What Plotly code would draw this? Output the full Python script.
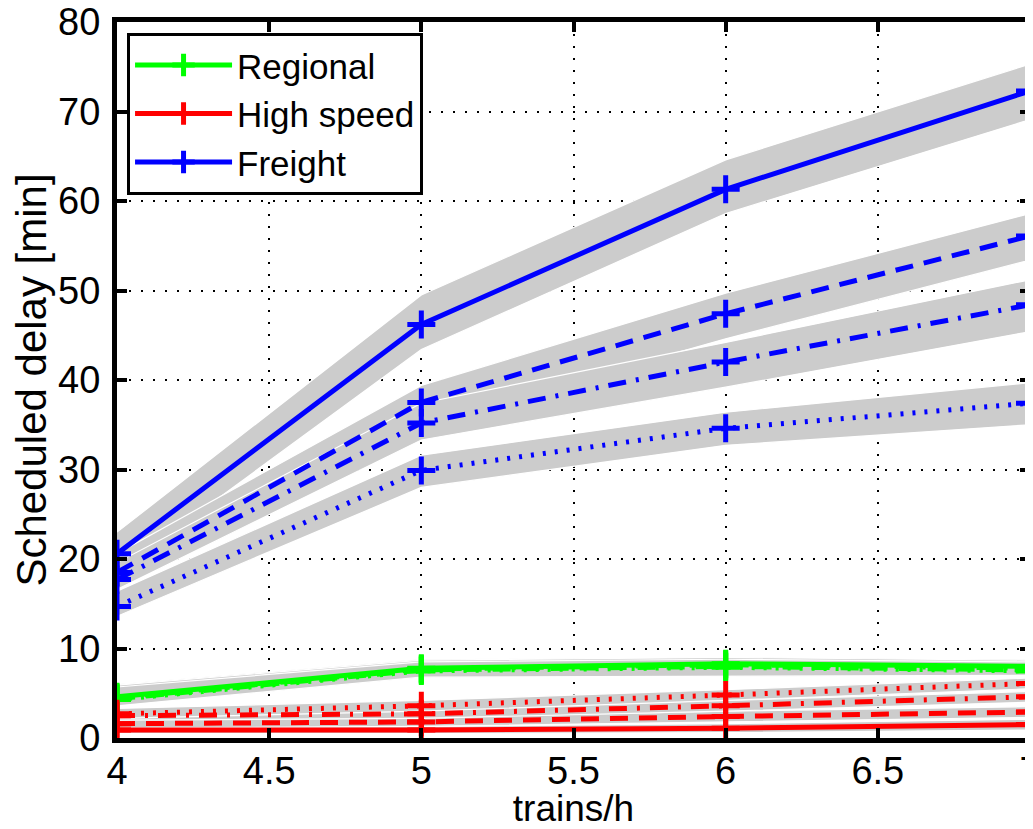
import plotly.graph_objects as go

# ---- data ----
x = [4, 5, 6, 7]

# Freight (blue)
freight_solid = [20.6, 46.2, 61.3, 72.3]
freight_solid_lo = [18.5, 43.4, 58.6, 69.1]
freight_solid_hi = [23.0, 49.5, 64.6, 75.3]
freight_dash = [18.5, 37.5, 47.4, 56.1]
freight_dash_lo = [16.8, 35.0, 44.6, 53.4]
freight_dash_hi = [20.6, 39.4, 49.7, 58.6]
freight_dashdot = [17.7, 35.2, 42.0, 48.4]
freight_dashdot_lo = [16.6, 33.3, 39.2, 45.4]
freight_dashdot_hi = [19.6, 37.4, 44.2, 51.2]
freight_dot = [14.7, 29.9, 34.6, 37.4]
freight_dot_lo = [13.6, 28.0, 32.7, 35.0]
freight_dot_hi = [16.4, 31.6, 36.4, 39.7]

# Regional (green)
regional_solid = [4.6, 7.8, 8.3, 8.0]
regional_solid_lo = [3.7, 6.9, 7.2, 7.1]
regional_solid_hi = [6.0, 8.8, 9.0, 8.8]
regional_dash = [4.4, 7.6, 8.0, 7.6]
regional_dash_lo = [3.6, 6.8, 7.0, 7.0]
regional_dash_hi = [5.8, 8.6, 8.9, 8.6]
regional_dashdot = [4.5, 7.7, 8.2, 7.8]
regional_dashdot_lo = [3.7, 6.9, 7.1, 7.0]
regional_dashdot_hi = [5.9, 8.7, 9.0, 8.7]
regional_dot = [4.3, 7.5, 7.9, 7.5]
regional_dot_lo = [3.6, 6.8, 6.9, 7.0]
regional_dot_hi = [5.7, 8.5, 8.8, 8.5]

# High speed (red)
high_solid = [0.9, 0.9, 1.1, 1.5]
high_solid_lo = [0.5, 0.5, 0.6, 0.9]
high_solid_hi = [1.3, 1.3, 1.6, 2.1]
high_dash = [1.6, 1.8, 2.4, 2.9]
high_dash_lo = [1.1, 1.3, 1.8, 2.3]
high_dash_hi = [2.1, 2.3, 3.0, 3.5]
high_dashdot = [2.5, 2.7, 3.6, 4.6]
high_dashdot_lo = [2.0, 2.2, 3.0, 4.0]
high_dashdot_hi = [3.0, 3.3, 4.2, 5.2]
high_dot = [2.7, 3.6, 4.8, 6.1]
high_dot_lo = [2.2, 3.0, 4.2, 5.5]
high_dot_hi = [3.3, 4.2, 5.4, 6.7]

x_ticks = [4, 4.5, 5, 5.5, 6, 6.5, 7]
x_tick_labels = ["4", "4.5", "5", "5.5", "6", "6.5", "7"]
y_ticks = [0, 10, 20, 30, 40, 50, 60, 70, 80]
y_tick_labels = ["0", "10", "20", "30", "40", "50", "60", "70", "80"]

# ---- styling ----
GREEN = "rgb(0,255,0)"
RED = "rgb(255,0,0)"
BLUE = "rgb(0,0,255)"
BAND = "rgb(204,204,204)"
DASHES = {
    "solid": "solid",
    "dash": "18px,11px",
    "dashdot": "18px,10px,3px,10px",
    "dot": "3px,9px",
}
FONT = "Liberation Sans, Arial, Helvetica, sans-serif"

series = [
    # (name, color, style, y, lo, hi, legend)
    ("Regional", GREEN, "solid", regional_solid, regional_solid_lo, regional_solid_hi, True),
    ("Regional", GREEN, "dash", regional_dash, regional_dash_lo, regional_dash_hi, False),
    ("Regional", GREEN, "dashdot", regional_dashdot, regional_dashdot_lo, regional_dashdot_hi, False),
    ("Regional", GREEN, "dot", regional_dot, regional_dot_lo, regional_dot_hi, False),
    ("High speed", RED, "solid", high_solid, high_solid_lo, high_solid_hi, True),
    ("High speed", RED, "dash", high_dash, high_dash_lo, high_dash_hi, False),
    ("High speed", RED, "dashdot", high_dashdot, high_dashdot_lo, high_dashdot_hi, False),
    ("High speed", RED, "dot", high_dot, high_dot_lo, high_dot_hi, False),
    ("Freight", BLUE, "solid", freight_solid, freight_solid_lo, freight_solid_hi, True),
    ("Freight", BLUE, "dash", freight_dash, freight_dash_lo, freight_dash_hi, False),
    ("Freight", BLUE, "dashdot", freight_dashdot, freight_dashdot_lo, freight_dashdot_hi, False),
    ("Freight", BLUE, "dot", freight_dot, freight_dot_lo, freight_dot_hi, False),
]

fig = go.Figure()

# bands first
for name, color, style, y, lo, hi, leg in series:
    fig.add_trace(go.Scatter(
        x=x + x[::-1], y=hi + lo[::-1],
        fill="toself", fillcolor=BAND,
        line=dict(color="white", width=1.2),
        mode="lines", hoverinfo="skip", showlegend=False,
    ))

# lines
for name, color, style, y, lo, hi, leg in series:
    fig.add_trace(go.Scatter(
        x=x, y=y, name=name, mode="lines+markers",
        line=dict(color=color, width=5, dash=DASHES[style]),
        marker=dict(symbol="cross-thin", size=20, color=color,
                    line=dict(color=color, width=5)),
        showlegend=leg,
    ))

# page body has an 8px default margin, so the figure is offset by 8px
fig.update_layout(
    width=1025, height=821,
    margin=dict(l=109, r=3, t=14, b=91, autoexpand=False),
    plot_bgcolor="white", paper_bgcolor="white",
    font=dict(family=FONT, size=36, color="black"),
    showlegend=True,
    legend=dict(
        x=0.011, y=0.985, xanchor="left", yanchor="top",
        xref="paper", yref="paper",
        bgcolor="white", bordercolor="black", borderwidth=3,
        font=dict(family=FONT, size=35, color="black"),
        itemwidth=97, tracegroupgap=0,
    ),
)
fig.update_xaxes(
    range=[4, 7], tickvals=x_ticks, ticktext=x_tick_labels,
    showline=True, linecolor="black", linewidth=5, mirror="ticks",
    ticks="inside", ticklen=10, tickwidth=4, tickcolor="black",
    showgrid=True, gridcolor="black", gridwidth=1.5, griddash="2px,10px",
    zeroline=False, ticklabeloverflow="allow", ticklabelstandoff=-5,
    title=dict(text="trains/h", font=dict(family=FONT, size=37), standoff=9),
    tickfont=dict(family=FONT, size=38),
    automargin=False,
)
fig.update_yaxes(
    range=[0, 80], tickvals=y_ticks, ticktext=y_tick_labels,
    showline=True, linecolor="black", linewidth=5, mirror="ticks",
    ticks="inside", ticklen=10, tickwidth=4, tickcolor="black",
    showgrid=True, gridcolor="black", gridwidth=1.5, griddash="2px,10px",
    zeroline=False, ticklabelstandoff=4, ticklabeloverflow="allow",
    title=dict(text="Scheduled delay [min]", font=dict(family=FONT, size=42), standoff=12),
    tickfont=dict(family=FONT, size=38),
    automargin=False,
)

fig.write_html("out.html")
